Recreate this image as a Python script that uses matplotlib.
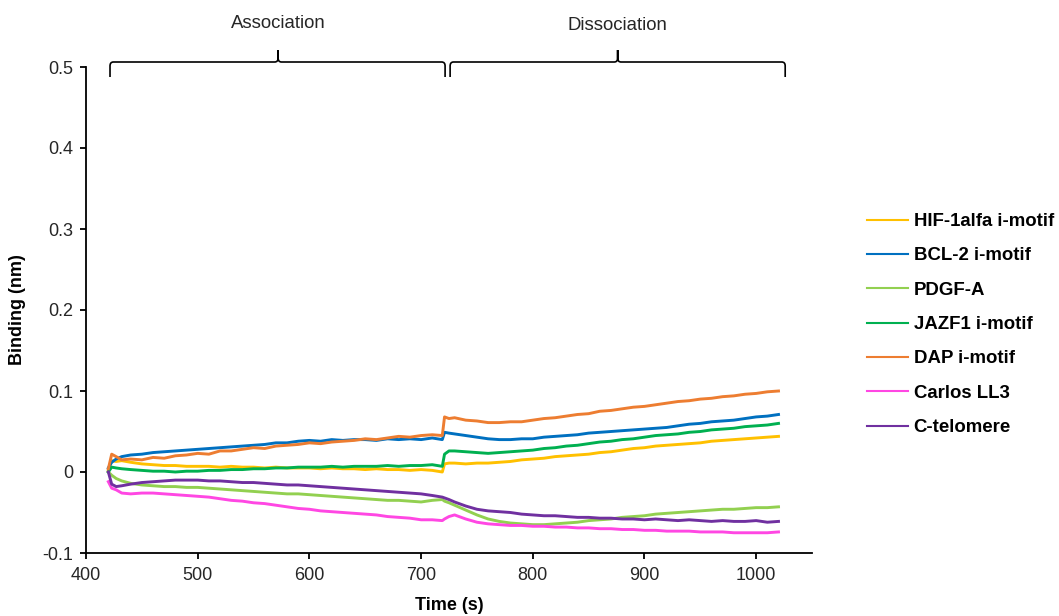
import matplotlib
matplotlib.use("Agg")
import matplotlib.pyplot as plt
from matplotlib.path import Path
from matplotlib.patches import PathPatch
from matplotlib.transforms import blended_transform_factory
from matplotlib.ticker import FuncFormatter

plt.rcParams['font.family'] = ['Liberation Sans', 'DejaVu Sans']

# ---------------- data ----------------
time_s = [420, 423, 427, 432, 440, 450, 460, 470, 480, 490, 500, 510, 520, 530, 540,
          550, 560, 570, 580, 590, 600, 610, 620, 630, 640, 650, 660, 670, 680, 690,
          700, 710, 719, 721, 725, 730, 740, 750, 760, 770, 780, 790, 800, 810, 820,
          830, 840, 850, 860, 870, 880, 890, 900, 910, 920, 930, 940, 950, 960, 970,
          980, 990, 1000, 1010, 1020]

hif1alfa = [0.002, 0.014, 0.013, 0.014, 0.012, 0.010, 0.009, 0.008, 0.008, 0.007, 0.007,
            0.007, 0.006, 0.007, 0.006, 0.006, 0.005, 0.006, 0.005, 0.005, 0.005, 0.004,
            0.005, 0.004, 0.004, 0.003, 0.004, 0.003, 0.003, 0.002, 0.003, 0.002, 0.000,
            0.010, 0.011, 0.011, 0.010, 0.011, 0.011, 0.012, 0.013, 0.015, 0.016, 0.017,
            0.019, 0.020, 0.021, 0.022, 0.024, 0.025, 0.027, 0.029, 0.030, 0.032, 0.033,
            0.034, 0.035, 0.036, 0.038, 0.039, 0.040, 0.041, 0.042, 0.043, 0.044]

bcl2 = [0.005, 0.012, 0.016, 0.019, 0.021, 0.022, 0.024, 0.025, 0.026, 0.027, 0.028,
        0.029, 0.030, 0.031, 0.032, 0.033, 0.034, 0.036, 0.036, 0.038, 0.039, 0.038,
        0.040, 0.039, 0.040, 0.040, 0.039, 0.041, 0.040, 0.041, 0.040, 0.042, 0.040,
        0.049, 0.048, 0.047, 0.045, 0.043, 0.041, 0.040, 0.040, 0.041, 0.041, 0.043,
        0.044, 0.045, 0.046, 0.048, 0.049, 0.050, 0.051, 0.052, 0.053, 0.054, 0.055,
        0.057, 0.059, 0.060, 0.062, 0.063, 0.064, 0.066, 0.068, 0.069, 0.071]

pdgfa = [0.000, -0.004, -0.008, -0.011, -0.014, -0.016, -0.017, -0.018, -0.018, -0.019,
         -0.019, -0.020, -0.021, -0.022, -0.023, -0.024, -0.025, -0.026, -0.027, -0.027,
         -0.028, -0.029, -0.030, -0.031, -0.032, -0.033, -0.034, -0.035, -0.035, -0.036,
         -0.037, -0.035, -0.034, -0.036, -0.038, -0.041, -0.047, -0.053, -0.058, -0.061,
         -0.063, -0.064, -0.065, -0.065, -0.064, -0.063, -0.062, -0.060, -0.059, -0.058,
         -0.056, -0.055, -0.054, -0.052, -0.051, -0.050, -0.049, -0.048, -0.047, -0.046,
         -0.046, -0.045, -0.044, -0.044, -0.043]

jazf1 = [0.000, 0.006, 0.005, 0.004, 0.003, 0.002, 0.001, 0.001, 0.000, 0.001, 0.001,
         0.002, 0.002, 0.003, 0.003, 0.004, 0.004, 0.005, 0.005, 0.006, 0.006, 0.006,
         0.007, 0.006, 0.007, 0.007, 0.007, 0.008, 0.007, 0.008, 0.008, 0.009, 0.007,
         0.022, 0.026, 0.026, 0.025, 0.024, 0.023, 0.024, 0.025, 0.026, 0.027, 0.029,
         0.030, 0.032, 0.033, 0.035, 0.037, 0.038, 0.040, 0.041, 0.043, 0.045, 0.046,
         0.047, 0.049, 0.050, 0.052, 0.053, 0.054, 0.056, 0.057, 0.058, 0.060]

dap = [0.004, 0.022, 0.019, 0.015, 0.016, 0.015, 0.018, 0.017, 0.020, 0.021, 0.023,
       0.022, 0.026, 0.026, 0.028, 0.030, 0.029, 0.032, 0.033, 0.034, 0.036, 0.035,
       0.037, 0.038, 0.039, 0.041, 0.040, 0.042, 0.044, 0.043, 0.045, 0.046, 0.045,
       0.068, 0.066, 0.067, 0.064, 0.063, 0.061, 0.061, 0.062, 0.062, 0.064, 0.066,
       0.067, 0.069, 0.071, 0.072, 0.075, 0.076, 0.078, 0.080, 0.081, 0.083, 0.085,
       0.087, 0.088, 0.090, 0.091, 0.093, 0.094, 0.096, 0.097, 0.099, 0.100]

carlos_ll3 = [-0.012, -0.020, -0.022, -0.026, -0.027, -0.026, -0.026, -0.027, -0.028,
              -0.029, -0.030, -0.031, -0.033, -0.035, -0.036, -0.038, -0.039, -0.041,
              -0.043, -0.045, -0.046, -0.048, -0.049, -0.050, -0.051, -0.052, -0.053,
              -0.055, -0.056, -0.057, -0.059, -0.059, -0.060, -0.058, -0.055, -0.053,
              -0.058, -0.062, -0.064, -0.065, -0.066, -0.066, -0.067, -0.067, -0.068,
              -0.068, -0.069, -0.069, -0.070, -0.070, -0.071, -0.071, -0.072, -0.072,
              -0.073, -0.073, -0.073, -0.074, -0.074, -0.074, -0.075, -0.075, -0.075,
              -0.075, -0.074]

c_telomere = [0.000, -0.015, -0.018, -0.017, -0.015, -0.013, -0.012, -0.011, -0.010,
              -0.010, -0.010, -0.011, -0.011, -0.012, -0.013, -0.013, -0.014, -0.015,
              -0.016, -0.016, -0.017, -0.018, -0.019, -0.020, -0.021, -0.022, -0.023,
              -0.024, -0.025, -0.026, -0.027, -0.029, -0.031, -0.032, -0.034, -0.037,
              -0.042, -0.046, -0.048, -0.049, -0.050, -0.052, -0.053, -0.054, -0.054,
              -0.055, -0.056, -0.056, -0.057, -0.057, -0.058, -0.058, -0.059, -0.058,
              -0.059, -0.060, -0.059, -0.060, -0.061, -0.060, -0.061, -0.061, -0.060,
              -0.062, -0.061]

series_names = ["HIF-1alfa i-motif", "BCL-2 i-motif", "PDGF-A", "JAZF1 i-motif",
                "DAP i-motif", "Carlos LL3", "C-telomere"]
series_values = [hif1alfa, bcl2, pdgfa, jazf1, dap, carlos_ll3, c_telomere]
series_colors = ["#FFC000", "#0070C0", "#92D050", "#00B050", "#ED7D31", "#FF47E3", "#7030A0"]

x_ticks = [400, 500, 600, 700, 800, 900, 1000]
y_ticks = [-0.1, 0.0, 0.1, 0.2, 0.3, 0.4, 0.5]

phase_labels = ["Association", "Dissociation"]
phase_ranges = [(421.5, 721.5), (726, 1026)]
phase_centers = [572, 876]

# ---------------- figure ----------------
W, H = 1059, 616
fig = plt.figure(figsize=(W / 100, H / 100), dpi=100)
ax = fig.add_axes([86 / W, 1 - 553 / H, (812 - 86) / W, (553 - 67) / H])

for name, vals, col in zip(series_names, series_values, series_colors):
    ax.plot(time_s, vals, color=col, lw=2.1, label=name, solid_joinstyle='round')

ax.set_xlim(400, 1050)
ax.set_ylim(-0.1, 0.5)
ax.set_xticks(x_ticks)
ax.set_yticks(y_ticks)
ax.yaxis.set_major_formatter(FuncFormatter(lambda v, p: "0" if abs(v) < 1e-9 else f"{v:.1f}"))

for s in ["top", "right"]:
    ax.spines[s].set_visible(False)
for s in ["left", "bottom"]:
    ax.spines[s].set_linewidth(1.3)
    ax.spines[s].set_color("black")
ax.tick_params(axis="both", direction="out", length=4, width=1.3, labelsize=13,
               colors="black", labelcolor="#262626")
ax.tick_params(axis="x", pad=6)
ax.tick_params(axis="y", pad=5)

fig.text(18 / W, 1 - 310 / H, "Binding (nm)", rotation=90, ha="center", va="center",
         fontsize=13, fontweight="bold")
fig.text(449 / W, 1 - 605 / H, "Time (s)", ha="center", va="center",
         fontsize=13, fontweight="bold")

# legend
leg = ax.legend(loc="upper left", bbox_to_anchor=(867 / W, 1 - 213 / H),
                bbox_transform=fig.transFigure, frameon=False,
                prop={"weight": "bold", "size": 13.4}, handlelength=2.2,
                handletextpad=0.3, labelspacing=0.93, borderpad=0, borderaxespad=0)
for t in leg.get_texts():
    t.set_color("black")
for h in leg.get_lines():
    h.set_linewidth(1.5)

# brackets (x in data units, y in figure pixels from top)
trans = blended_transform_factory(ax.transData, fig.transFigure)


def fy(ypx):
    return 1 - ypx / H


r = 3.0  # horizontal curve radius in data units
for (xa, xb), xc, label, ty in zip(phase_ranges, phase_centers, phase_labels, [23, 25]):
    verts = [
        (xa, fy(77)), (xa, fy(66)),
        (xa, fy(62)), (xa + r, fy(62)),
        (xc - r, fy(62)),
        (xc, fy(62)), (xc, fy(58)),
        (xc, fy(50)),
        (xc, fy(58)),
        (xc, fy(62)), (xc + r, fy(62)),
        (xb - r, fy(62)),
        (xb, fy(62)), (xb, fy(66)),
        (xb, fy(77)),
    ]
    codes = [Path.MOVETO, Path.LINETO,
             Path.CURVE3, Path.CURVE3,
             Path.LINETO,
             Path.CURVE3, Path.CURVE3,
             Path.LINETO,
             Path.LINETO,
             Path.CURVE3, Path.CURVE3,
             Path.LINETO,
             Path.CURVE3, Path.CURVE3,
             Path.LINETO]
    patch = PathPatch(Path(verts, codes), transform=trans, facecolor="none",
                      edgecolor="black", lw=1.2, clip_on=False)
    fig.add_artist(patch)
    t = fig.text(xc, fy(ty), label, transform=trans, fontsize=13.4, ha="center",
                 va="center", color="#262626")

fig.savefig("out.png", dpi=100)
